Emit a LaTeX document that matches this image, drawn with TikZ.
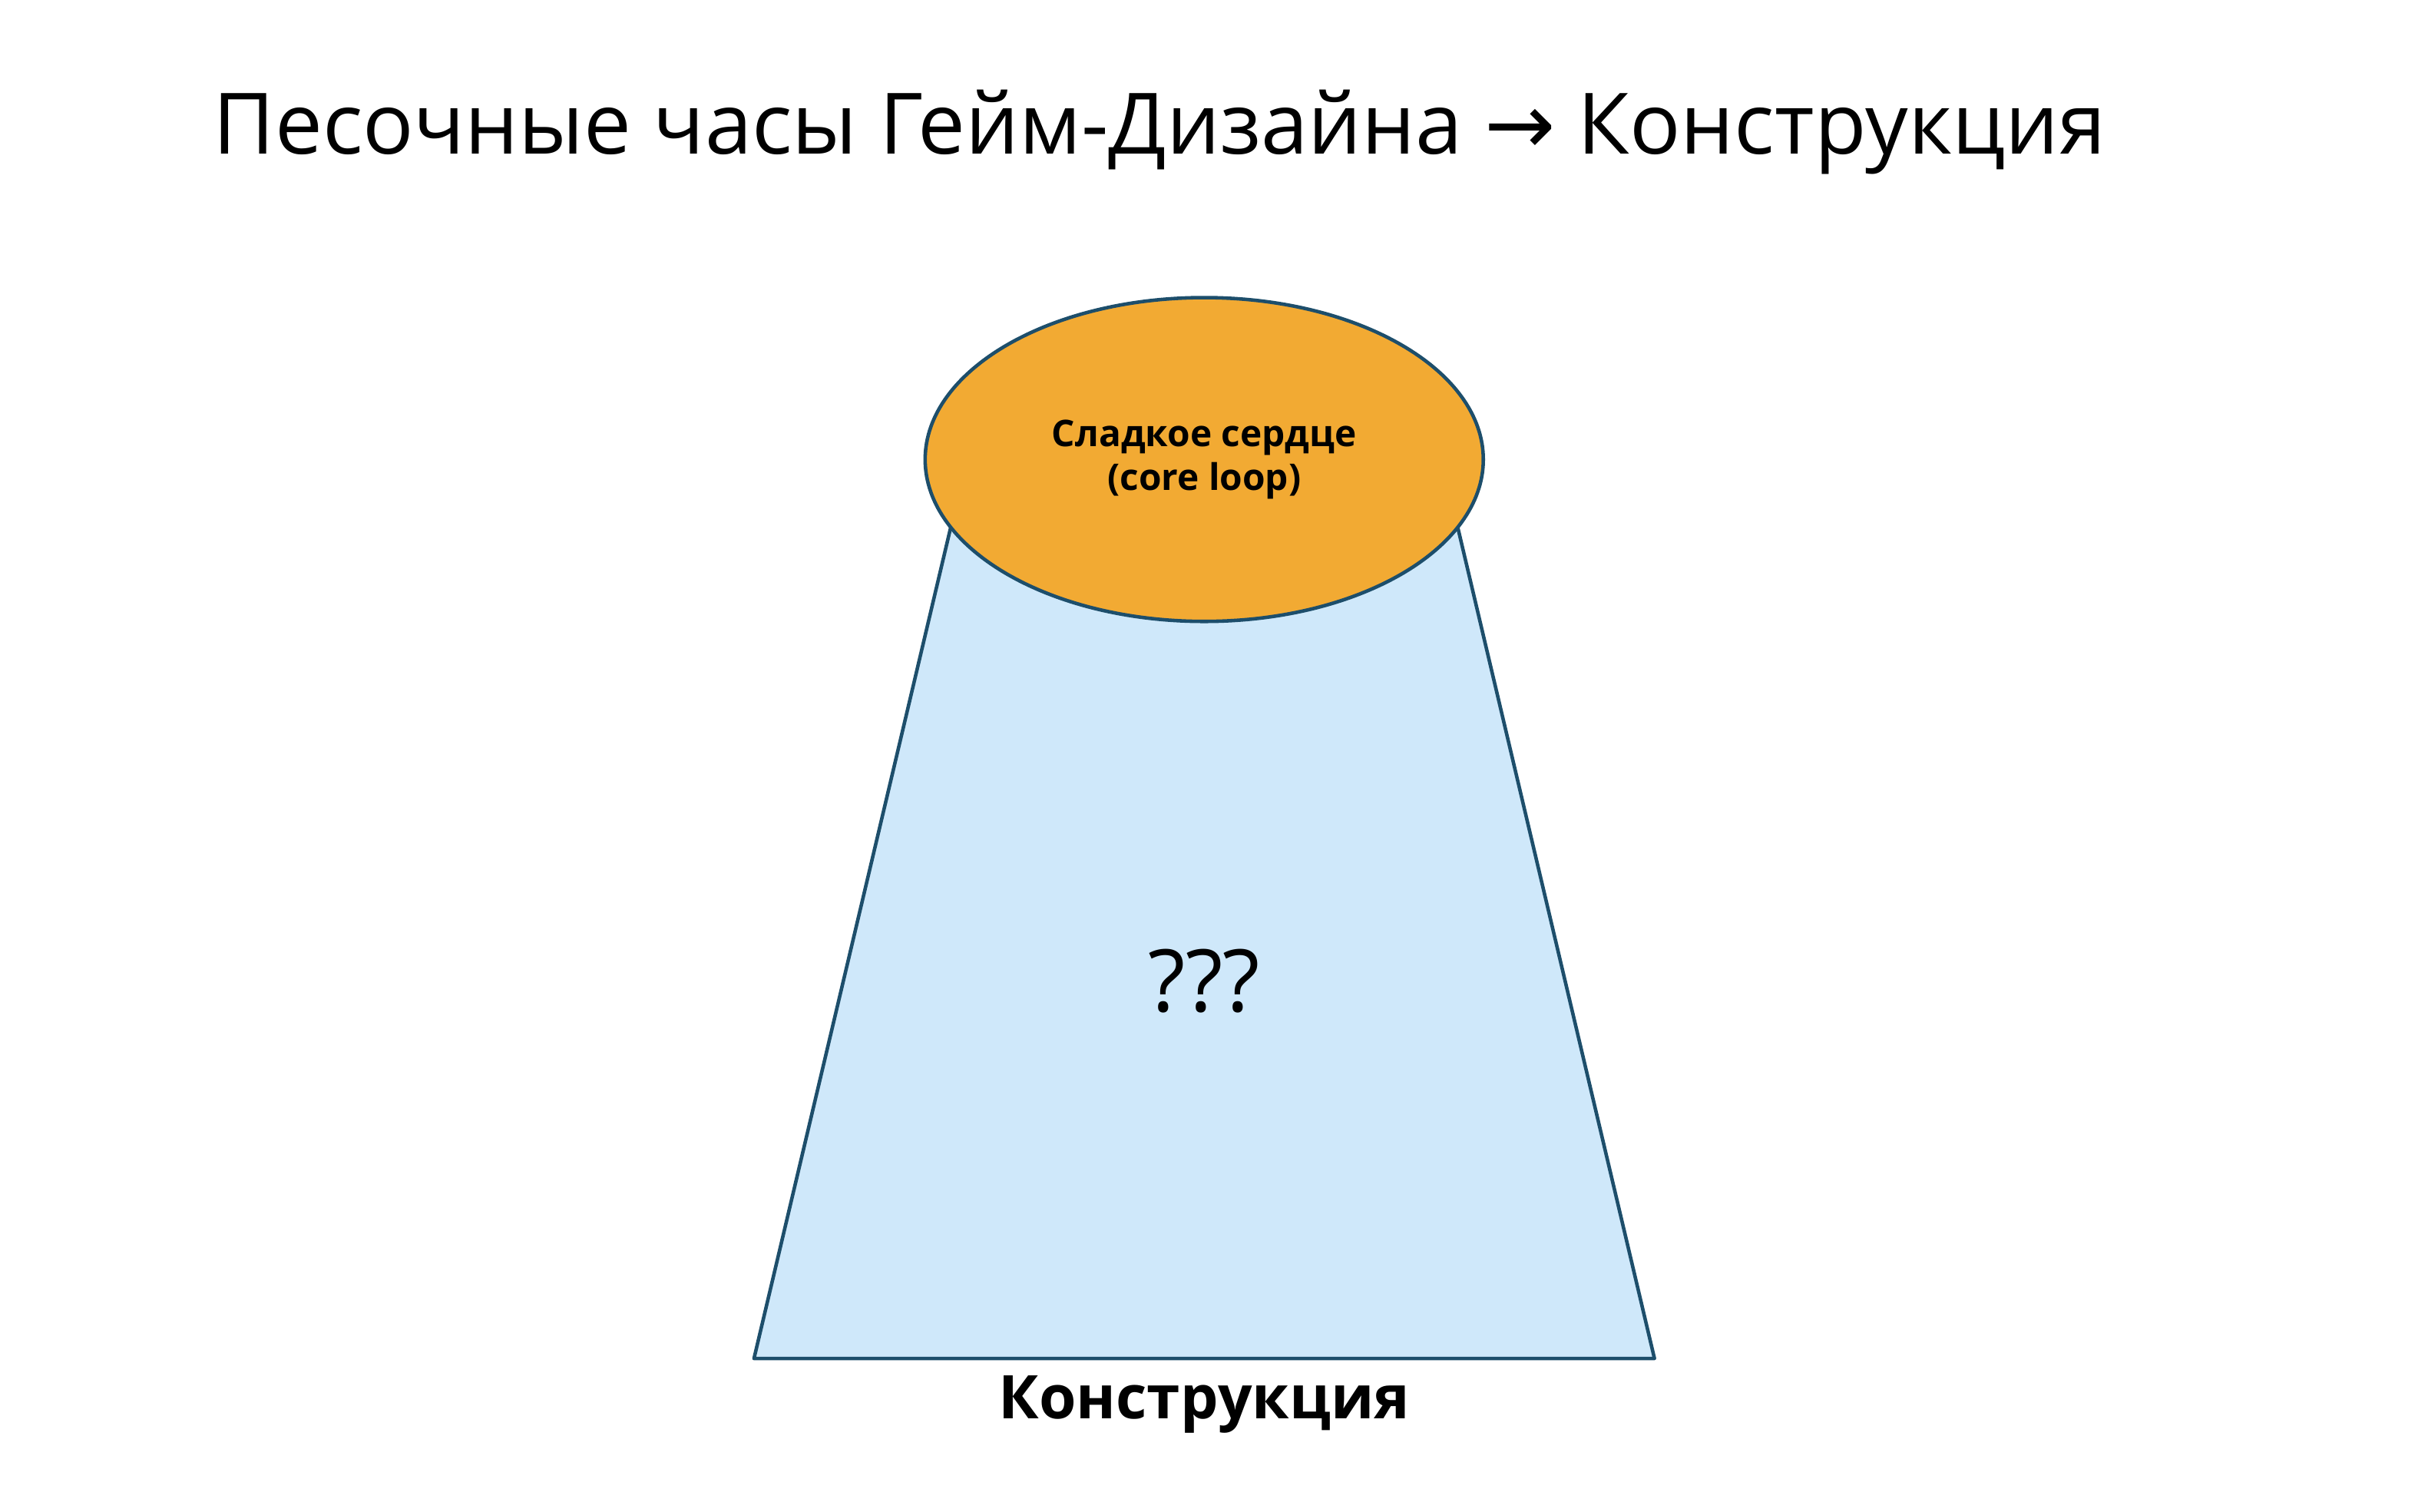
\documentclass[tikz,border=0pt]{standalone}
\usepackage{fontspec}
\setmainfont{Open Sans}
\newfontfamily\symfont{DejaVu Sans}
\usetikzlibrary{shapes.geometric}
\definecolor{coreorange}{HTML}{F2AA33}
\definecolor{funnelblue}{HTML}{CFE8FA}
\definecolor{edgeblue}{HTML}{1D4E6B}
\tikzset{
  shapeline/.style={draw=edgeblue, line width=1.3pt, line join=round},
}
\begin{document}
\begin{tikzpicture}[x=0.02008cm, y=-0.02008cm]
\useasboundingbox (0,0) rectangle (1568.2,980.1);
% trapezoid (funnel)
\coordinate (tl) at (627,298);
\coordinate (tr) at (935,298);
\coordinate (bl) at (489,881);
\coordinate (br) at (1073,881);
\fill[funnelblue] (tl) -- (tr) -- (br) -- (bl) -- cycle;
\draw[shapeline] (tl) -- (bl) -- (br) -- (tr);
% core ellipse
\node[ellipse, shapeline, fill=coreorange, minimum width=362*0.02008cm, minimum height=210*0.02008cm, inner sep=0pt, align=center, font=\bfseries\fontsize{13.6}{16}\selectfont] (core) at (781,298) {Сладкое сердце\\(core loop)};
% labels
\node[anchor=base west, inner sep=0pt, font=\fontsize{31.4}{36}\selectfont] (title) at (138,100) {Песочные часы Гейм-Дизайна {\symfont →} Конструкция};
\node[anchor=base, inner sep=0pt, font=\fontsize{32}{36}\selectfont] (qq) at (781,656) {???};
\node[anchor=base, inner sep=0pt, font=\bfseries\fontsize{22.3}{28}\selectfont] (base) at (781,920) {Конструкция};
\end{tikzpicture}
\end{document}
